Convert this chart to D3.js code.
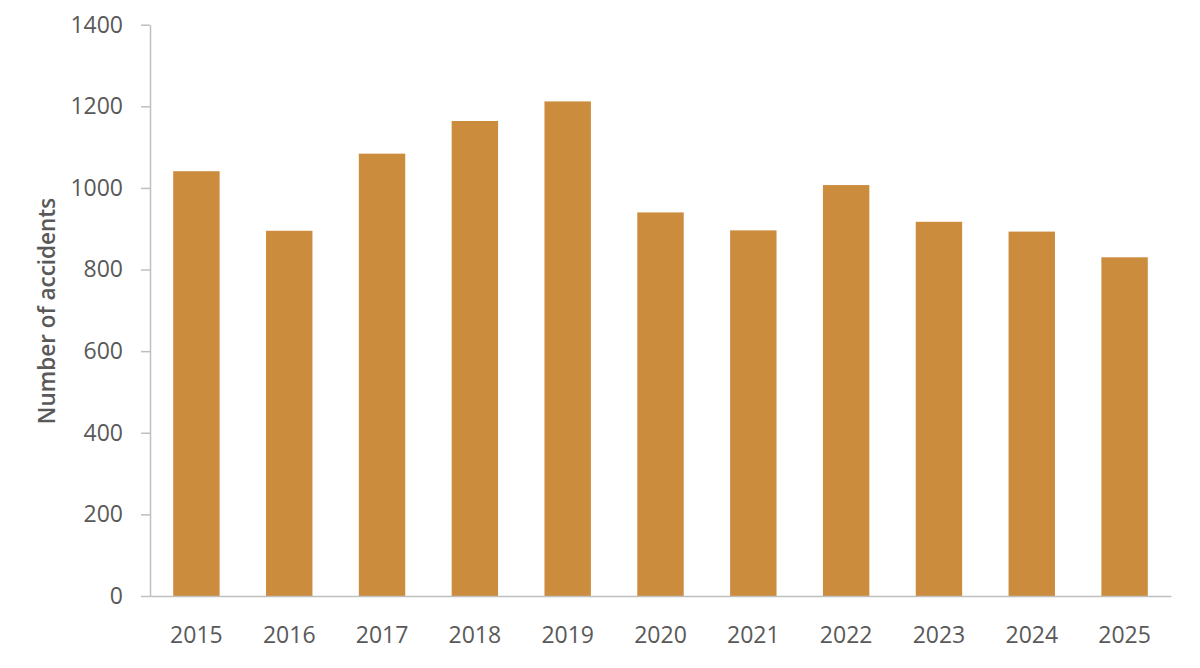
<!DOCTYPE html>
<html>
<head>
<meta charset="utf-8">
<script src="https://cdn.jsdelivr.net/npm/d3@7"></script>
<style>
  body { margin: 0; background: #fff; }
  .chart text { font-family: "Open Sans", "Noto Sans", sans-serif; fill: #595959; }
  .axis path, .axis line { stroke: #bfbfbf; stroke-width: 1.5; }
</style>
</head>
<body>
<div class="chart"></div>
<script>
const years = ['2015','2016','2017','2018','2019','2020','2021','2022','2023','2024','2025'];
const accidents = [1041, 895, 1084, 1164, 1212, 940, 896, 1007, 917, 893, 830];
const yTicks = [0, 200, 400, 600, 800, 1000, 1200, 1400];

const width = 1200, height = 668;
const plot = {left: 150, right: 1171, top: 24.7, bottom: 596};

const svg = d3.select('.chart')
    .append('svg')
    .attr('width', width)
    .attr('height', height);

const xScale = d3.scaleBand()
    .domain(years)
    .range([plot.left, plot.right])
    .paddingInner(0.5)
    .paddingOuter(0.25);

const yScale = d3.scaleLinear()
    .domain([0, 1400])
    .range([plot.bottom, plot.top]);

// bars
svg.selectAll('rect.bar')
    .data(years)
    .enter()
    .append('rect')
    .attr('class', 'bar')
    .attr('x', d => xScale(d))
    .attr('width', xScale.bandwidth())
    .attr('y', (d, i) => yScale(accidents[i]))
    .attr('height', (d, i) => plot.bottom - yScale(accidents[i]))
    .attr('fill', '#cb8c3d');

const yAxis = d3.axisLeft(yScale)
    .tickValues(yTicks)
    .tickFormat(d3.format('d'))
    .tickSize(9)
    .tickSizeOuter(0)
    .tickPadding(18);

svg.append('g')
    .attr('class', 'axis y-axis')
    .attr('transform', 'translate(' + plot.left + ',0)')
    .call(yAxis)
    .selectAll('text')
    .attr('font-size', 23);

const xAxis = d3.axisBottom(xScale)
    .tickSize(0)
    .tickSizeOuter(0)
    .tickPadding(31);

svg.append('g')
    .attr('class', 'axis x-axis')
    .attr('transform', 'translate(0,' + plot.bottom + ')')
    .call(xAxis)
    .selectAll('text')
    .attr('font-size', 23);

// y axis title
svg.append('text')
    .attr('transform', 'translate(55,311) rotate(-90)')
    .attr('text-anchor', 'middle')
    .attr('font-size', 22.5)
    .attr('font-weight', 600)
    .text('Number of accidents');
</script>
</body>
</html>
